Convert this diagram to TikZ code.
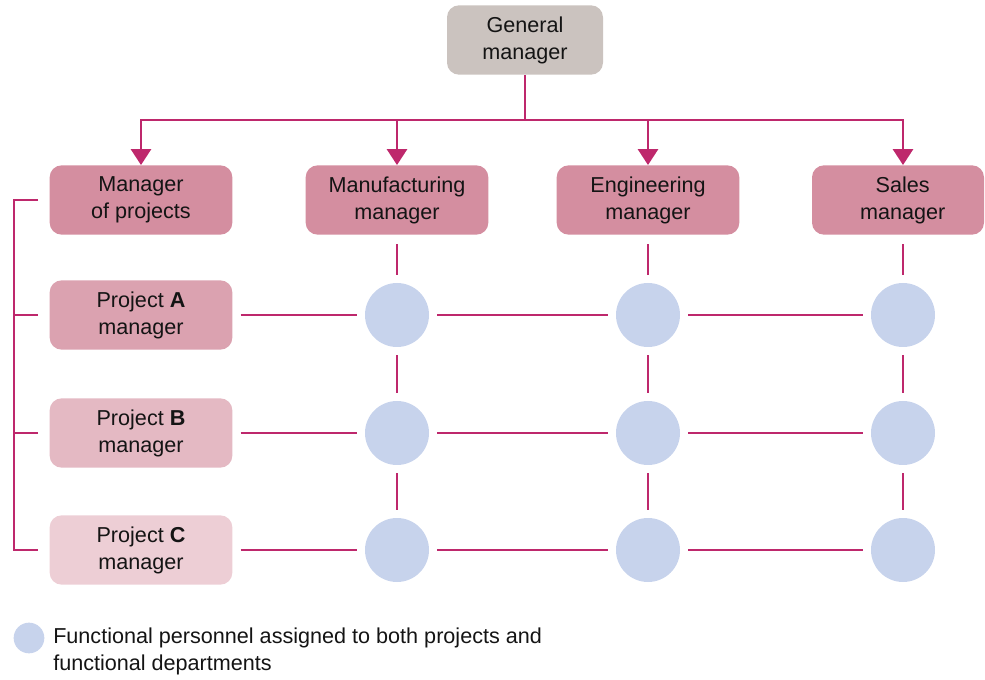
\documentclass[tikz,border=0pt]{standalone}
\usepackage{fontspec}
\setmainfont{Liberation Sans}
\usetikzlibrary{arrows.meta}

\definecolor{linkred}{RGB}{190,40,108}
\definecolor{gmfill}{RGB}{203,195,191}
\definecolor{headfill}{RGB}{212,142,160}
\definecolor{pafill}{RGB}{219,162,176}
\definecolor{pbfill}{RGB}{228,185,195}
\definecolor{pcfill}{RGB}{237,206,213}
\definecolor{staff}{RGB}{199,211,236}
\definecolor{ink}{RGB}{20,20,20}

\tikzset{
  labelfont/.style={font=\fontsize{16.2}{20.25}\selectfont},
  box/.style={rounded corners=9pt, minimum width=137pt, minimum height=52pt,
    align=center, inner sep=0pt, text=ink, labelfont},
  person/.style={circle, fill=staff, minimum size=48pt, inner sep=0pt},
  conn/.style={draw=linkred, line width=2.2pt},
  gapped/.style={conn, shorten <=6pt, shorten >=6pt},
  feed/.style={conn, -{Triangle[length=12pt, width=15pt]}},
}

\begin{document}
\begin{tikzpicture}[x=0.75pt, y=-0.75pt]
\useasboundingbox (0,0) rectangle (985,680);

% top of the hierarchy
\node[box, fill=gmfill, minimum width=117pt] (gm) at (525,40) {General\\manager};

% second level
\node[box, fill=headfill] (mp)  at (141,200) {Manager\\of projects};
\node[box, fill=headfill] (mfg) at (397,200) {Manufacturing\\manager};
\node[box, fill=headfill] (eng) at (648,200) {Engineering\\manager};
\node[box, fill=headfill, minimum width=129pt] (sal) at (898,200) {\hspace*{7pt}Sales\\\hspace*{7pt}manager};

% project managers
\node[box, fill=pafill] (pa) at (141,315) {Project \textbf{A}\\manager};
\node[box, fill=pbfill] (pb) at (141,433) {Project \textbf{B}\\manager};
\node[box, fill=pcfill] (pc) at (141,550) {Project \textbf{C}\\manager};

% functional personnel grid
\foreach \r/\y in {1/315, 2/433, 3/550}
  \foreach \c/\x in {1/397, 2/648, 3/903}
    \node[person] (c\r\c) at (\x,\y) {};

% reporting bus
\coordinate (bus) at (525,120);
\draw[conn] (gm.south) -- (bus);
\draw[feed] (bus) -| (mp.north);
\draw[feed] (bus) -| (mfg.north);
\draw[feed] (bus) -| (eng.north);
\draw[feed] (bus) -| ([xshift=3.75pt]sal.north);

% functional columns
\draw[conn, shorten <=7pt, shorten >=6pt] (mfg.south) -- (c11);
\draw[conn, shorten <=7pt, shorten >=6pt] (eng.south) -- (c12);
\draw[conn, shorten <=7pt, shorten >=6pt] (sal.south -| c13) -- (c13);
\foreach \c in {1,2,3} {
  \draw[gapped] (c1\c) -- (c2\c);
  \draw[gapped] (c2\c) -- (c3\c);
}

% project rows
\draw[gapped] (pa) -- (c11);
\draw[gapped] (pb) -- (c21);
\draw[gapped] (pc) -- (c31);
\foreach \r in {1,2,3} {
  \draw[gapped] (c\r1) -- (c\r2);
  \draw[gapped] (c\r2) -- (c\r3);
}

% bracket from the manager of projects
\coordinate (brbot) at (14,550);
\draw[conn] ([xshift=-8.5pt]mp.west) -| (brbot) -- ([xshift=-8.5pt]pc.west);
\draw[conn] ([xshift=-8.5pt]pa.west) -- (pa.west -| brbot);
\draw[conn] ([xshift=-8.5pt]pb.west) -- (pb.west -| brbot);

% legend
\node[circle, fill=staff, minimum size=23pt, inner sep=0pt] (key) at (29,638) {};
\node[anchor=west, align=left, inner sep=0pt, text=ink, labelfont] (keytext) at (53,651)
  {Functional personnel assigned to both projects and\\functional departments};
\end{tikzpicture}
\end{document}
